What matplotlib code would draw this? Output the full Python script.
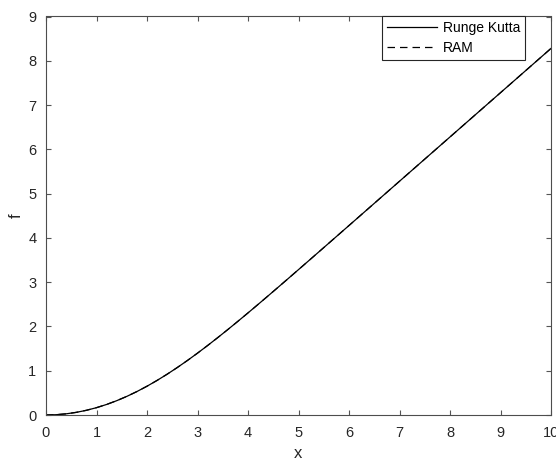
import matplotlib
matplotlib.use("Agg")
import matplotlib.pyplot as plt
from matplotlib.ticker import MultipleLocator

plt.rcParams['font.family'] = ['Liberation Sans', 'DejaVu Sans']

x = [0, 0.2, 0.4, 0.6, 0.8, 1.0, 1.2, 1.4, 1.6, 1.8, 2.0, 2.2, 2.4, 2.6, 2.8, 3.0,
     3.2, 3.4, 3.6, 3.8, 4.0, 4.2, 4.4, 4.6, 4.8, 5.0, 5.2, 5.4, 5.6, 5.8, 6.0,
     7, 8, 9, 10]
f_rk = [0, 0.0066, 0.0266, 0.0597, 0.1061, 0.1656, 0.2380, 0.3230, 0.4203, 0.5295,
        0.6500, 0.7812, 0.9223, 1.0725, 1.2310, 1.3968, 1.5691, 1.7470, 1.9295, 2.1161,
        2.3058, 2.4981, 2.6924, 2.8883, 3.0853, 3.2833, 3.4819, 3.6809, 3.8803, 4.0799,
        4.2796, 5.2793, 6.2792, 7.2792, 8.2792]
f_ram = [0, 0.0066, 0.0266, 0.0597, 0.1061, 0.1656, 0.2380, 0.3230, 0.4203, 0.5295,
         0.6500, 0.7812, 0.9223, 1.0725, 1.2310, 1.3968, 1.5691, 1.7470, 1.9295, 2.1161,
         2.3058, 2.4981, 2.6924, 2.8883, 3.0853, 3.2833, 3.4819, 3.6809, 3.8803, 4.0799,
         4.2796, 5.2793, 6.2792, 7.2792, 8.2792]

fig = plt.figure(figsize=(5.56, 4.61), dpi=100)
ax = fig.add_axes([46/556, 1-415/461, (551-46)/556, (415-16.5)/461])

ax.plot(x, f_rk, color='black', lw=0.9, label='Runge Kutta')
ax.plot(x, f_ram, color='black', lw=0.9, ls=(0, (6, 4)), label='RAM')

ax.set_xlim(0, 10)
ax.set_ylim(0, 9)
ax.xaxis.set_major_locator(MultipleLocator(1))
ax.yaxis.set_major_locator(MultipleLocator(1))
ax.tick_params(direction='in', top=True, right=True, length=3.6, width=0.8,
               colors='#555555', labelsize=10.5, labelcolor='#262626')
ax.tick_params(axis='x', pad=8)
ax.tick_params(axis='y', pad=7)
for s in ax.spines.values():
    s.set_color('#4d4d4d')
    s.set_linewidth(0.8)
ax.set_xlabel('x', fontsize=12, color='#262626', labelpad=4)
ax.set_ylabel('f', fontsize=12, color='#262626', labelpad=3)

leg = ax.legend(loc='upper right', bbox_to_anchor=(525/556, 1-16.5/461),
                bbox_transform=fig.transFigure, fancybox=False, framealpha=1,
                edgecolor='#262626', fontsize=10, borderaxespad=0,
                handlelength=3.6, handletextpad=0.4, borderpad=0.35, labelspacing=0.4)
leg.get_frame().set_linewidth(0.8)

fig.savefig('out.png', dpi=100)
